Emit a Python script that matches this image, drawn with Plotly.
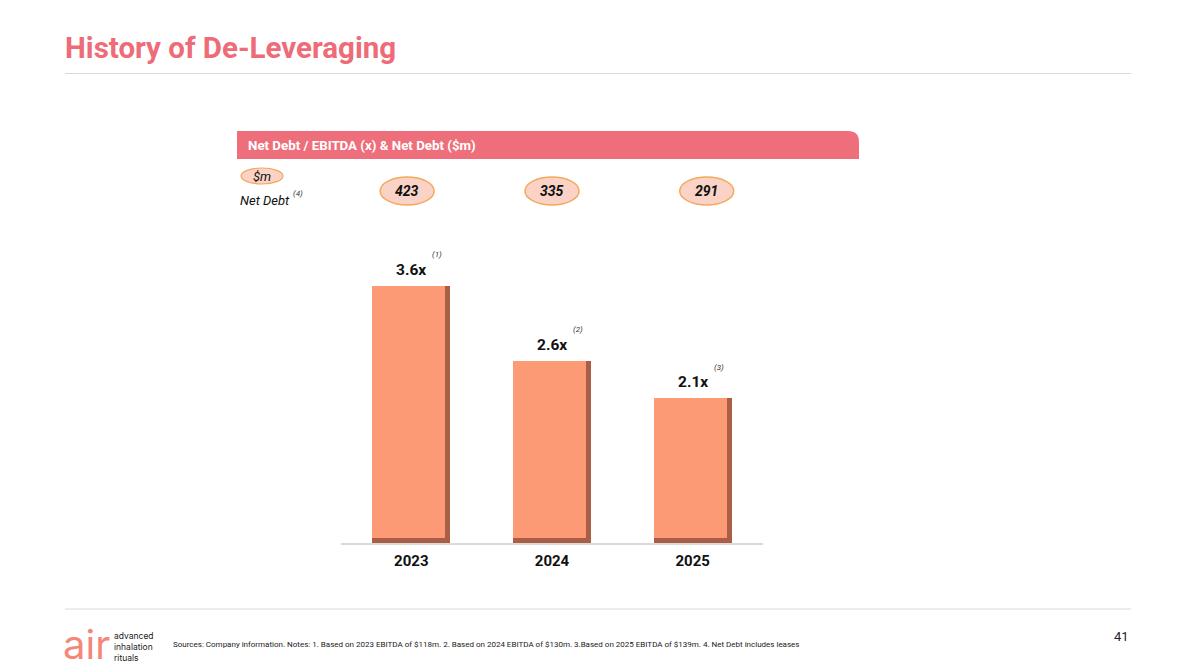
import plotly.graph_objects as go

# ---- data ----
years = ["2023", "2024", "2025"]
leverage = [3.6, 2.6, 2.1]
leverage_labels = ["3.6x", "2.6x", "2.1x"]
leverage_notes = ["(1)", "(2)", "(3)"]
net_debt = [423, 335, 291]

W, H = 1196, 672
def px(x):
    return x / W
def py(y):
    return 1 - y / H

Y0 = 0.17
BAR_W = 0.555
BEVEL_X = 0.036
BEVEL_Y = 0.065

fig = go.Figure()
# shadow / bevel body
fig.add_trace(go.Bar(
    x=years, y=leverage, width=BAR_W,
    marker=dict(color="#A95E45", line=dict(width=0)),
    hoverinfo="skip", showlegend=False,
))
# face
fig.add_trace(go.Bar(
    x=years, y=[v - (Y0 + BEVEL_Y) for v in leverage], base=Y0 + BEVEL_Y,
    width=BAR_W - BEVEL_X, offset=-BAR_W / 2,
    marker=dict(color="#FC9A76", line=dict(width=0)),
    showlegend=False,
))

fig.update_layout(
    width=W, height=H, margin=dict(l=0, r=0, t=0, b=0),
    paper_bgcolor="white", plot_bgcolor="white",
    barmode="overlay", bargap=0,
    font=dict(family="Roboto", color="black"),
    xaxis=dict(type="category", domain=[px(341), px(763)], range=[-0.5, 2.5],
               autorange=False, showgrid=False, zeroline=False,
               showline=True, linecolor="#DADADA", linewidth=1.5,
               tickfont=dict(family="Roboto", size=15, color="#111", weight="bold"),
               ticklabelstandoff=3, fixedrange=True),
    yaxis=dict(domain=[py(543), py(250)], range=[Y0, Y0 + 293 / 75], autorange=False,
               visible=False, fixedrange=True),
)

def A(**kw):
    d = dict(showarrow=False, xanchor="center", yanchor="middle")
    d.update(kw)
    return d

ann = []
# bar labels
for i, (v, lab, note) in enumerate(zip(leverage, leverage_labels, leverage_notes)):
    ann.append(A(x=i, y=v, xref="x", yref="y", text=lab, yshift=16,
                 font=dict(family="Roboto", size=15.5, color="#111", weight="bold")))
    ann.append(A(x=i, y=v, xref="x", yref="y", text="<i>" + note + "</i>",
                 yshift=31, xshift=26, font=dict(family="Roboto", size=8, color="#333")))

shapes = []
# net debt ellipses
ell_off = [-0.03, 0.0, 0.1]
for i, nd in enumerate(net_debt):
    cx = i + ell_off[i]
    shapes.append(dict(type="circle", xref="x", yref="paper",
                       x0=cx - 0.192, x1=cx + 0.192, y0=py(205), y1=py(177),
                       fillcolor="#FAD3C6", line=dict(color="#F5A85E", width=1.5)))
    ann.append(A(x=cx, y=py(191), xref="x", yref="paper", text="<b><i>%d</i></b>" % nd,
                 font=dict(family="Roboto", size=14, color="#111")))

# $m ellipse
shapes.append(dict(type="circle", xref="paper", yref="paper",
                   x0=px(241), x1=px(283), y0=py(184), y1=py(168),
                   fillcolor="#FAD3C6", line=dict(color="#F5A85E", width=1.2)))
ann.append(A(x=px(262), y=py(176.5), xref="paper", yref="paper", text="<i>$m</i>",
             font=dict(family="Roboto", size=13, color="#111")))
ann.append(A(x=px(238), y=py(200), xref="paper", yref="paper", text="<i>Net Debt</i>",
             xanchor="left", font=dict(family="Roboto", size=13, color="#111")))
ann.append(A(x=px(291), y=py(194), xref="paper", yref="paper", text="<i>(4)</i>",
             xanchor="left", font=dict(family="Roboto", size=8, color="#333")))

# header bar with rounded top-right corner
x0, x1, y0, y1, r = 237, 859, 131, 159, 11
path = ("M %f,%f L %f,%f Q %f,%f %f,%f L %f,%f L %f,%f Z" % (
    px(x0), py(y0), px(x1 - r), py(y0), px(x1), py(y0), px(x1), py(y0 + r),
    px(x1), py(y1), px(x0), py(y1)))
shapes.append(dict(type="path", xref="paper", yref="paper", path=path,
                   fillcolor="#EE6F7B", line=dict(width=0)))
ann.append(A(x=px(246), y=py(145.5), xref="paper", yref="paper",
             text="<b>Net Debt / EBITDA (x) & Net Debt ($m)</b>",
             xanchor="left", font=dict(family="Roboto", size=13.3, color="white")))

# title and separator lines
ann.append(A(x=px(63), y=py(48), xref="paper", yref="paper",
             text="<b>History of De-Leveraging</b>", xanchor="left",
             font=dict(family="Roboto", size=29.5, color="#EE6B78")))
shapes.append(dict(type="line", xref="paper", yref="paper", x0=px(65), x1=px(1131),
                   y0=py(73.5), y1=py(73.5), line=dict(color="#D9D9D9", width=1.2)))
shapes.append(dict(type="line", xref="paper", yref="paper", x0=px(65), x1=px(1131),
                   y0=py(609), y1=py(609), line=dict(color="#D9D9D9", width=1.2)))

# footer
ann.append(A(x=px(171), y=py(644), xref="paper", yref="paper",
             text="Sources: Company information. Notes: 1. Based on 2023 EBITDA of $118m. 2. Based on 2024 EBITDA of $130m. 3.Based on 2025 EBITDA of $139m. 4. Net Debt includes leases",
             xanchor="left", font=dict(family="Roboto", size=8, color="#222")))
ann.append(A(x=px(1131), y=py(636), xref="paper", yref="paper", text="41",
             xanchor="right", font=dict(family="Roboto", size=13, color="#222")))
# logo
ann.append(A(x=px(61), y=py(644), xref="paper", yref="paper", text="air",
             xanchor="left", font=dict(family="Inter", size=40, color="#F5877A", weight=400)))
ann.append(A(x=px(112), y=py(647), xref="paper", yref="paper",
             text="advanced<br>inhalation<br>rituals", xanchor="left",
             align="left", font=dict(family="Inter", size=8.5, color="#222")))

fig.update_layout(annotations=ann, shapes=shapes)
fig.write_html("out.html", config=dict(displayModeBar=False),
               post_script="document.body.style.margin='0';")
